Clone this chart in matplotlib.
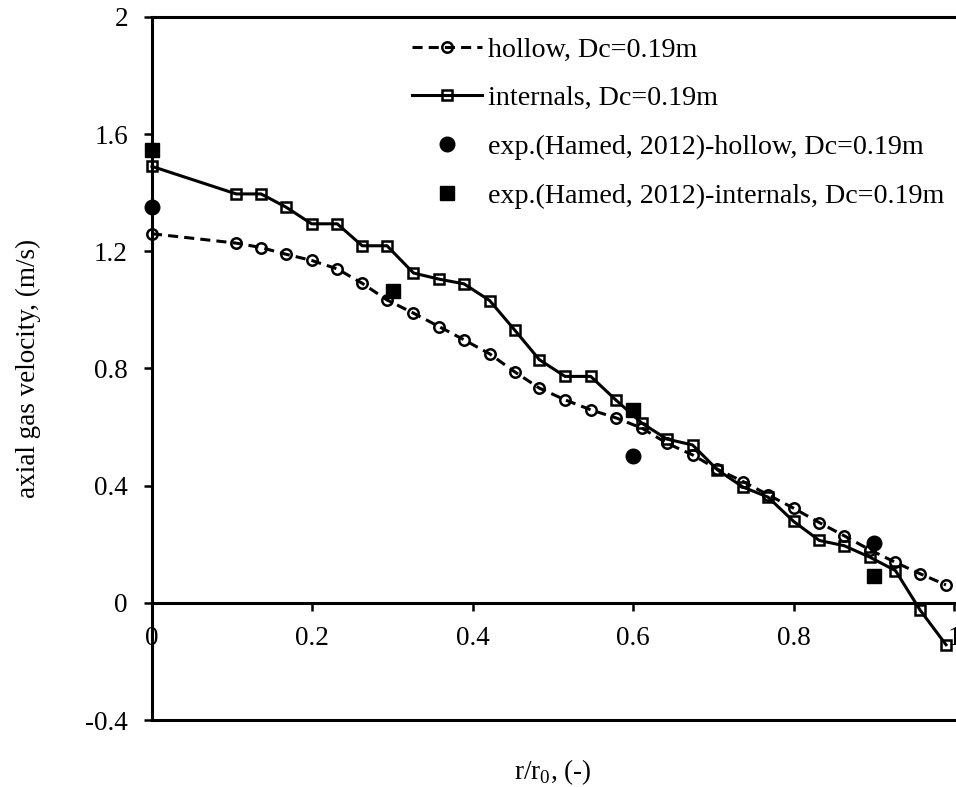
import matplotlib
matplotlib.use("Agg")
import matplotlib.pyplot as plt

plt.rcParams["font.family"] = ["Liberation Serif", "DejaVu Serif"]
plt.rcParams["mathtext.fontset"] = "custom"
plt.rcParams["mathtext.rm"] = "Liberation Serif"

# radial positions of the simulated profiles, r/r0
R_SIM = [0.0, 0.105, 0.136, 0.167, 0.199, 0.231, 0.262, 0.293, 0.326, 0.358,
         0.389, 0.421, 0.452, 0.483, 0.515, 0.547, 0.579, 0.611, 0.642, 0.674,
         0.705, 0.737, 0.768, 0.800, 0.832, 0.863, 0.895, 0.927, 0.958, 0.990]

# simulated axial gas velocity (m/s)
U_HOLLOW = [1.26, 1.228, 1.213, 1.19, 1.169, 1.14, 1.091, 1.034, 0.989, 0.943,
            0.898, 0.85, 0.789, 0.733, 0.693, 0.659, 0.631, 0.596, 0.545, 0.505,
            0.456, 0.414, 0.369, 0.323, 0.274, 0.229, 0.181, 0.138, 0.099, 0.061]
U_INTERNALS = [1.49, 1.396, 1.396, 1.351, 1.294, 1.294, 1.219, 1.219, 1.126, 1.105,
               1.089, 1.032, 0.932, 0.83, 0.773, 0.773, 0.691, 0.613, 0.559, 0.539,
               0.454, 0.395, 0.361, 0.278, 0.213, 0.195, 0.156, 0.110, -0.026, -0.143]

# experimental points (Hamed, 2012)
R_EXP_HOLLOW = [0.0, 0.6, 0.9]
U_EXP_HOLLOW = [1.35, 0.50, 0.205]
R_EXP_INTERNALS = [0.0, 0.3, 0.6, 0.9]
U_EXP_INTERNALS = [1.545, 1.063, 0.657, 0.09]

X_TICKS = [0, 0.2, 0.4, 0.6, 0.8, 1.0]
X_LABELS = ["0", "0.2", "0.4", "0.6", "0.8", "1"]
Y_TICKS = [-0.4, 0, 0.4, 0.8, 1.2, 1.6, 2.0]
Y_LABELS = ["-0.4", "0", "0.4", "0.8", "1.2", "1.6", "2"]

FS = 19.5
LW = 2.2


def plot_data():
    fig = plt.figure(figsize=(9.56, 7.87), dpi=100)
    ax = fig.add_axes([152 / 956, 67 / 787, 805 / 956, 703 / 787])

    ax.plot(R_SIM, U_HOLLOW, color="black", lw=LW, dashes=(3.3, 2.0),
            marker="o", ms=7.5, mfc="none", mec="black", mew=1.8,
            clip_on=False, zorder=3, label="hollow, Dc=0.19m")
    ax.plot(R_SIM, U_INTERNALS, color="black", lw=LW, ls="-",
            marker="s", ms=7.5, mfc="none", mec="black", mew=1.8,
            clip_on=False, zorder=3, label="internals, Dc=0.19m")
    ax.plot(R_EXP_HOLLOW, U_EXP_HOLLOW, ls="none", marker="o", ms=10.5,
            color="black", clip_on=False, zorder=4,
            label="exp.(Hamed, 2012)-hollow, Dc=0.19m")
    ax.plot(R_EXP_INTERNALS, U_EXP_INTERNALS, ls="none", marker="s", ms=9.5,
            color="black", clip_on=False, zorder=4,
            label="exp.(Hamed, 2012)-internals, Dc=0.19m")

    ax.set_xlim(0, 1.0037)
    ax.set_ylim(-0.4, 2.0)

    # x axis sits on the zero line, frame closed at the bottom
    ax.spines["bottom"].set_position(("data", 0))
    ax.spines["right"].set_visible(False)
    for side in ["left", "top", "bottom"]:
        ax.spines[side].set_linewidth(LW)
    ax.axhline(-0.4, color="black", lw=LW, clip_on=False, zorder=2.5)

    ax.set_xticks(X_TICKS)
    ax.set_xticklabels(X_LABELS)
    ax.set_yticks(Y_TICKS)
    ax.set_yticklabels(Y_LABELS)
    ax.tick_params(axis="x", direction="out", length=5.5, width=1.8,
                   pad=11, labelsize=FS)
    ax.tick_params(axis="y", direction="out", length=5.8, width=1.8,
                   pad=11.5, labelsize=FS)

    ax.set_ylabel("axial gas velocity, (m/s)", fontsize=FS)
    ax.yaxis.set_label_coords(-0.138, 0.5)
    fig.text(553 / 956, 1 - 772 / 787, r"r/r$_\mathregular{0}$, (-)",
             fontsize=FS, ha="center", va="center")

    ax.legend(loc="upper left", bbox_to_anchor=(412 / 956, 1 - 37 / 787),
              bbox_transform=fig.transFigure, frameon=False, fontsize=20.2,
              handlelength=2.5, handletextpad=0.22, labelspacing=0.82,
              borderpad=0, borderaxespad=0)

    fig.savefig("out.png", dpi=100)


def main():
    plot_data()


if __name__ == "__main__":
    main()
